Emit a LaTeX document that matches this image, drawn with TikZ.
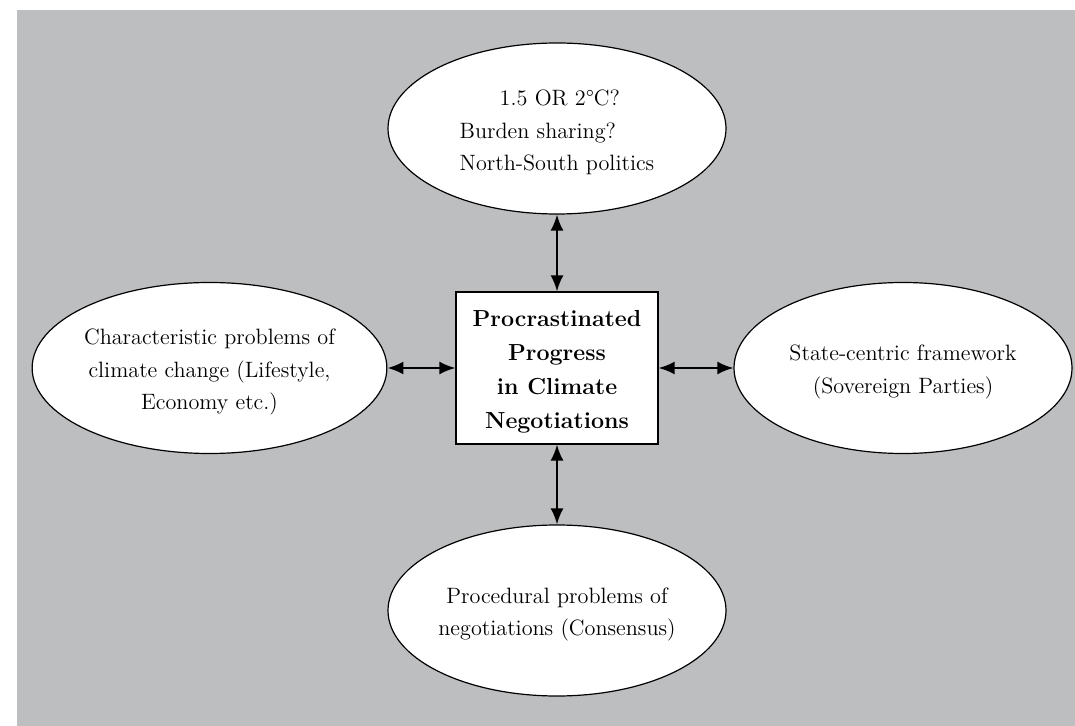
\documentclass[tikz,border=0pt]{standalone}
\usepackage{fontspec}
\usetikzlibrary{shapes.geometric,arrows.meta}
\definecolor{bggray}{HTML}{BDBEC0}
\newcommand\lowerstrut{\rule{0pt}{12pt}}
\begin{document}
\begin{tikzpicture}[x=0.5pt,y=-0.5pt,
  oval/.style={ellipse,draw=black,line width=0.6pt,fill=white,minimum width=169pt,minimum height=85.5pt,inner sep=0pt,align=center,font=\fontsize{11.1}{16.25}\selectfont},
  centrebox/.style={rectangle,draw=black,line width=0.6pt,fill=white,minimum width=101pt,minimum height=76pt,inner sep=0pt,align=center,font=\fontsize{11.6}{17}\selectfont\bfseries},
  dbl/.style={{Latex[length=8pt,width=6.5pt]}-{Latex[length=8pt,width=6.5pt]},line width=1pt}]
\useasboundingbox (0,0) rectangle (1075,726);
\fill[bggray] (17,10) rectangle (1075,726);
\node[centrebox] (core) at (557,368) {\lowerstrut Procrastinated\\Progress\\in Climate\\Negotiations};
\node[oval,align=left] (top) at (557,128.5) {\lowerstrut\hspace*{20pt}1.5 OR 2\textdegree C?\\Burden sharing?\\North-South politics};
\node[oval] (left) at (209.5,368) {\lowerstrut Characteristic problems of\\climate change (Lifestyle,\\Economy etc.)};
\node[oval] (right) at (903,368) {\lowerstrut State-centric framework\\(Sovereign Parties)};
\node[oval] (bottom) at (557,610.5) {\lowerstrut Procedural problems of\\negotiations (Consensus)};
\draw[dbl] (top) -- (core);
\draw[dbl] (core) -- (bottom);
\draw[dbl] (left) -- (core);
\draw[dbl] (core) -- (right);
\end{tikzpicture}
\end{document}
